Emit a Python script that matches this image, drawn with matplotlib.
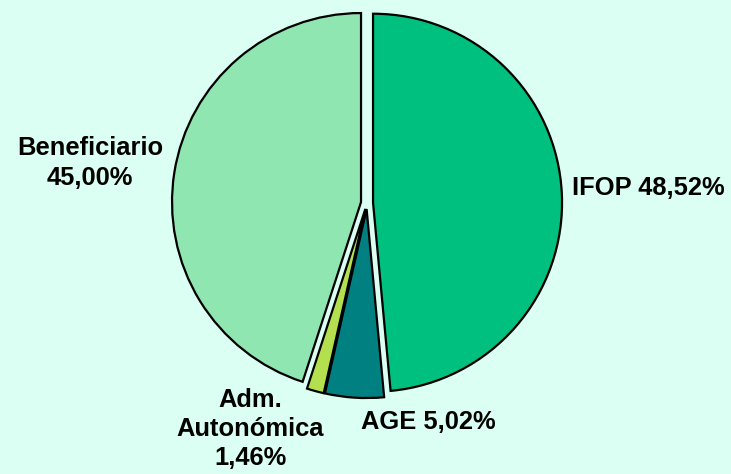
import matplotlib
matplotlib.use("Agg")
import matplotlib.pyplot as plt

# datos del gráfico
categorias = ["IFOP", "AGE", "Adm.\nAutonómica", "Beneficiario"]
porcentajes = [48.52, 5.02, 1.46, 45.00]
etiquetas = ["IFOP 48,52%", "AGE 5,02%", "Adm.\nAutonómica\n1,46%", "Beneficiario\n45,00%"]
colores = ["#00C080", "#008080", "#B4E050", "#90E6B0"]

W, H = 731, 474
R = 189.0            # radio en píxeles
cx, cy = 367, 203    # centro en píxeles (desde arriba)

fig = plt.figure(figsize=(W / 100, H / 100), dpi=100)
fig.patch.set_facecolor("#DCFFF4")
ax = fig.add_axes([0, 0, 1, 1])
ax.set_facecolor("#DCFFF4")
ax.axis("off")

ax.pie(porcentajes, colors=colores, startangle=90, counterclock=False,
       explode=[0.032] * len(porcentajes),
       wedgeprops=dict(edgecolor="black", linewidth=1.6))

# escala: 1 unidad = R píxeles
ax.set_xlim(-cx / R, (W - cx) / R)
ax.set_ylim(-(H - cy) / R, cy / R)
ax.set_aspect("auto")

fuente = dict(family="Liberation Sans", weight="bold", fontsize=18.4, color="black")
# posiciones de las etiquetas en píxeles (x, y desde arriba)
pos = [(572, 188, "left", 1.3), (428, 422, "center", 1.3),
       (250, 429, "center", 1.25), (90, 163, "center", 1.35)]
for txt, (px, py, ha, ls) in zip(etiquetas, pos):
    fig.text(px / W, 1 - py / H, txt, ha=ha, va="center", linespacing=ls, **fuente)

fig.savefig("out.png", dpi=100, facecolor=fig.get_facecolor())
